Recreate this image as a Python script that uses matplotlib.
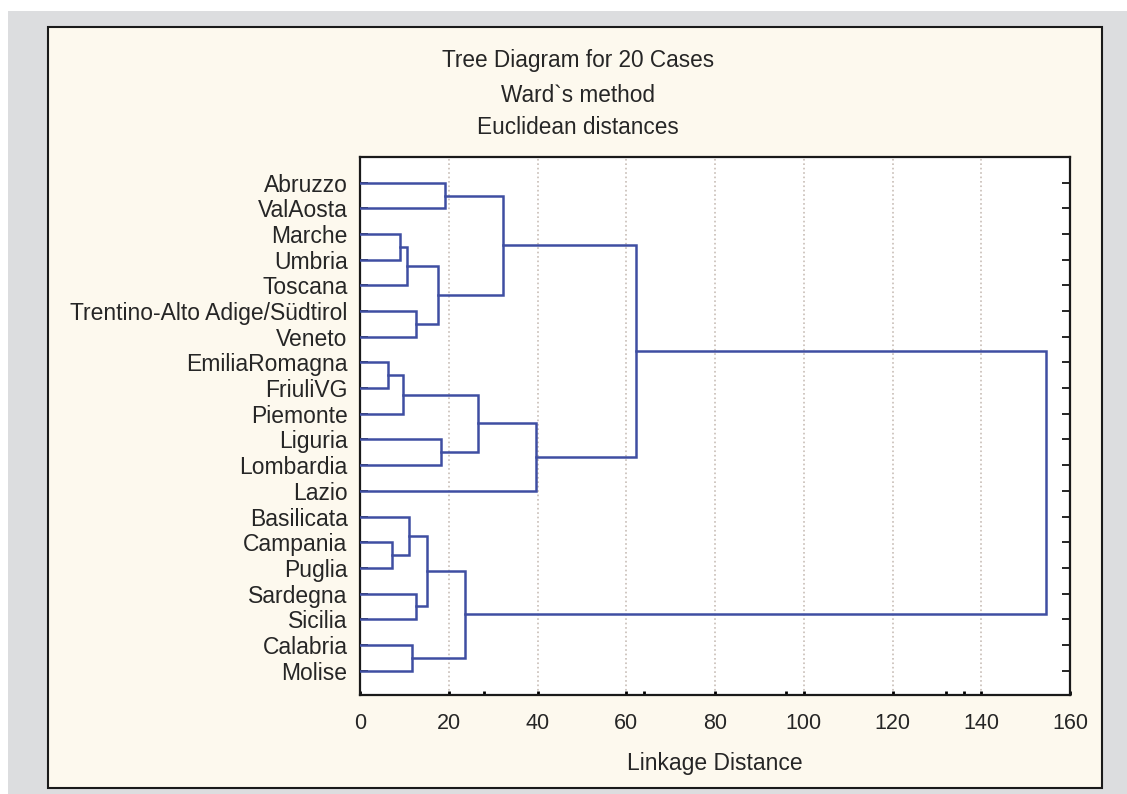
import matplotlib
matplotlib.use("Agg")
import matplotlib.pyplot as plt
from matplotlib.patches import Rectangle

plt.rcParams['font.family'] = ['Liberation Sans', 'DejaVu Sans']

# leaf order, top to bottom
regions = ["Abruzzo", "ValAosta", "Marche", "Umbria", "Toscana",
           "Trentino-Alto Adige/Südtirol", "Veneto", "EmiliaRomagna",
           "FriuliVG", "Piemonte", "Liguria", "Lombardia", "Lazio",
           "Basilicata", "Campania", "Puglia", "Sardegna", "Sicilia",
           "Calabria", "Molise"]

# Ward linkage: cluster a + cluster b at distance h, new ids start at 20
merge_a = [7, 14, 2, 20, 22, 13, 18, 5, 16, 25, 24, 10, 0, 29, 23, 32, 34, 35, 37]
merge_b = [8, 15, 3, 9, 4, 21, 19, 6, 17, 28, 27, 11, 1, 26, 31, 30, 12, 36, 33]
merge_h = [6.4, 7.3, 9.0, 9.6, 10.5, 11.1, 11.8, 12.6, 12.6, 15.2, 17.5,
           18.2, 19.2, 23.7, 26.7, 32.3, 39.7, 62.2, 154.7]

xticks = [0, 20, 40, 60, 80, 100, 120, 140, 160]
line_col = '#3f4ea2'
txt_col = '#262626'

W, H = 1127, 794
fig = plt.figure(figsize=(W / 100, H / 100), dpi=100, facecolor='white')


def px(x0, y0, x1, y1):
    return (x0 / W, 1 - y1 / H), (x1 - x0) / W, (y1 - y0) / H


xy, w, h = px(8, 11, 1127, 794)
fig.patches.append(Rectangle(xy, w, h, transform=fig.transFigure,
                             facecolor='#dcdddf', edgecolor='none', zorder=0))
xy, w, h = px(48, 27, 1102, 788)
fig.patches.append(Rectangle(xy, w, h, transform=fig.transFigure,
                             facecolor='#fdf9ee', edgecolor='#1a1a1a',
                             linewidth=1.5, zorder=1))

fig.text(578 / W, 1 - 61 / H, "Tree Diagram for 20 Cases", ha='center',
         va='center', fontsize=16.3, color=txt_col)
fig.text(578 / W, 1 - 95 / H, "Ward`s method", ha='center',
         va='center', fontsize=16.3, color=txt_col)
fig.text(578 / W, 1 - 128 / H, "Euclidean distances", ha='center',
         va='center', fontsize=16.3, color=txt_col)

ax = fig.add_axes([360 / W, 1 - 695 / H, 710 / W, 538 / H], zorder=3)
ax.set_facecolor('white')

# walk the linkage, each cluster sits at the mean of its children
ypos = {i: i + 1 for i in range(len(regions))}
height = {i: 0.0 for i in range(len(regions))}
for k, (a, b, d) in enumerate(zip(merge_a, merge_b, merge_h)):
    ya, yb = ypos[a], ypos[b]
    ax.plot([height[a], d, d, height[b]], [ya, ya, yb, yb],
            color=line_col, lw=1.8, solid_joinstyle='miter', zorder=3)
    ypos[20 + k] = (ya + yb) / 2
    height[20 + k] = d

ax.set_xlim(0, 160)
ax.set_ylim(20.95, 0.0)
ax.set_yticks(range(1, 21))
ax.set_yticklabels(regions, fontsize=16.5, color=txt_col)
ax.set_xticks(xticks)
ax.set_xticks([28, 64, 96, 132, 136], minor=True)
ax.tick_params(axis='x', labelsize=15.5, labelcolor=txt_col, direction='in',
               length=3, width=2, pad=13)
ax.tick_params(axis='x', which='minor', direction='in', length=3, width=2)
ax.tick_params(axis='y', direction='in', length=6, width=1.2, left=True,
               right=True, pad=9)
ax.grid(axis='x', color='#c8bdb6', linestyle=':', linewidth=1.2)
for s in ax.spines.values():
    s.set_linewidth(1.6)
    s.set_color('#1a1a1a')
ax.set_xlabel("Linkage Distance", fontsize=16.5, color=txt_col, labelpad=13)

fig.savefig('out.png', dpi=100, facecolor=fig.get_facecolor())
